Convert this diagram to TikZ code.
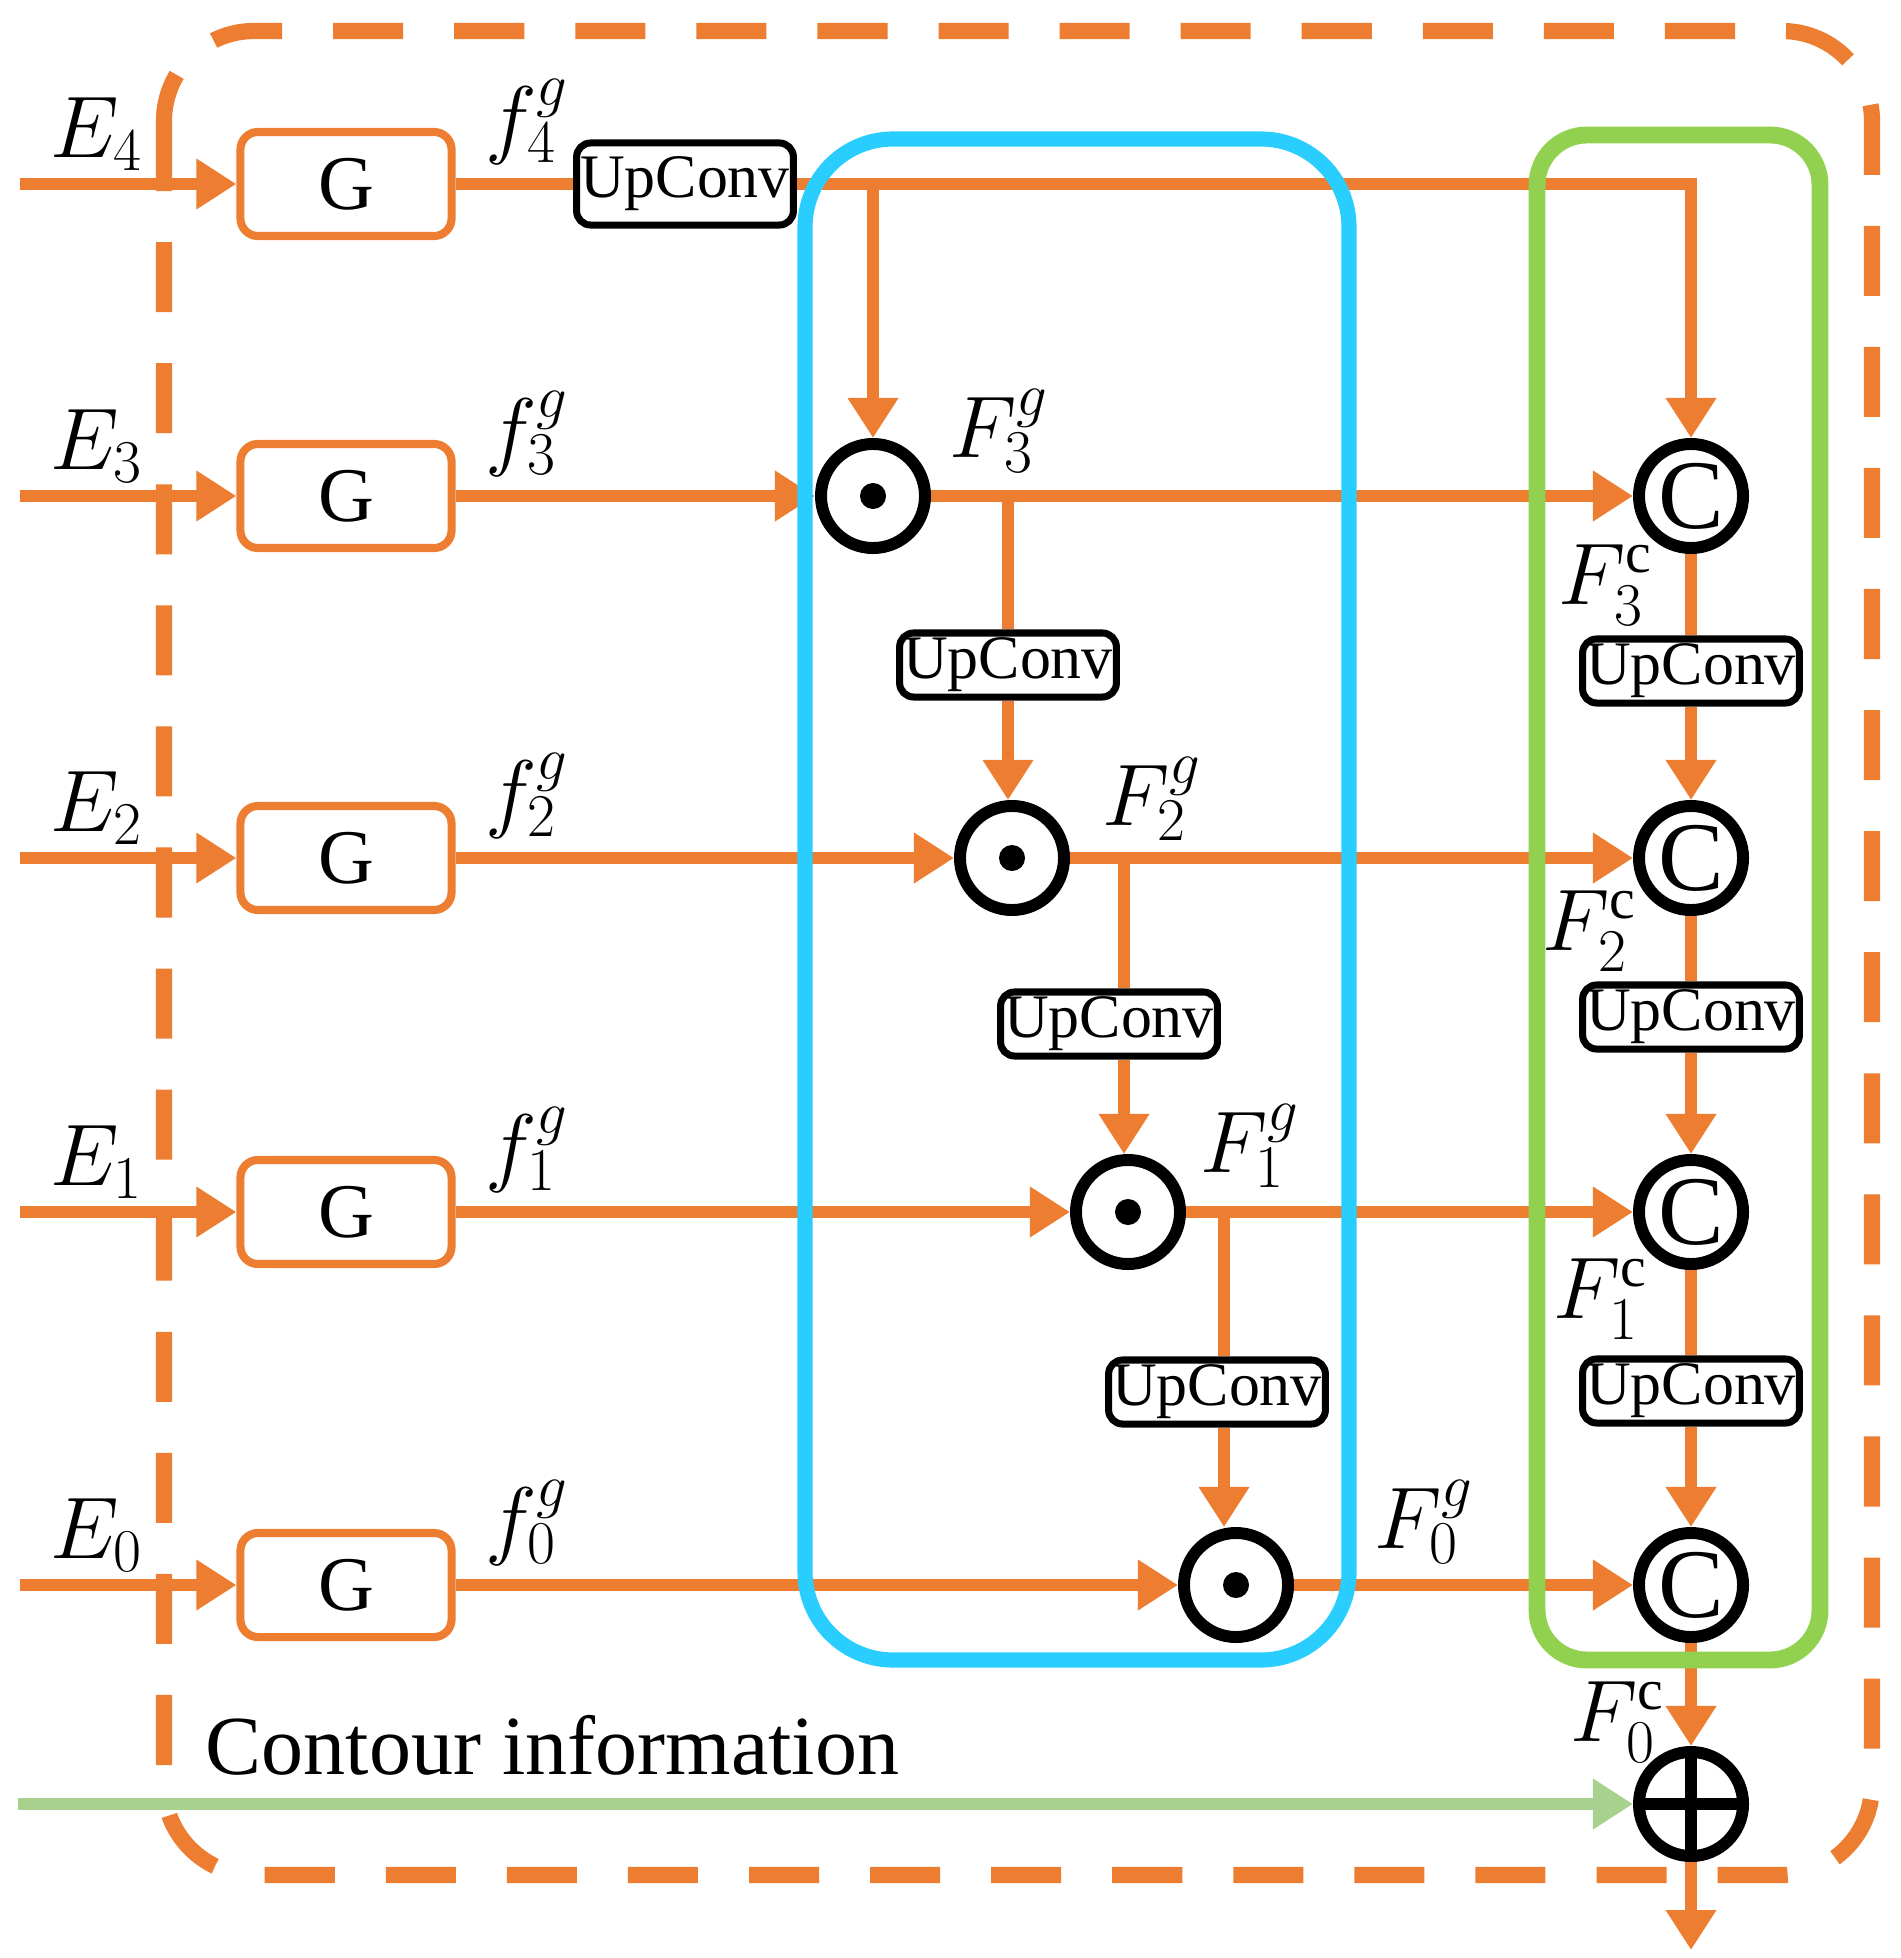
\documentclass[tikz,border=0pt]{standalone}
\usepackage{fontspec}
\setmainfont{Liberation Serif}
\usepackage{tikz}
\usetikzlibrary{positioning,calc}
\usetikzlibrary{arrows.meta}
\definecolor{DecOrange}{RGB}{237,125,49}
\definecolor{AttBlue}{RGB}{41,206,255}
\definecolor{CatGreen}{RGB}{146,208,80}
\definecolor{CtrGreen}{RGB}{169,209,142}
\tikzset{
  gbox/.style={draw=DecOrange,line width=2.3pt,rounded corners=5pt,fill=white,
    minimum width=2.11cm,minimum height=1.04cm,inner sep=0pt,
    font=\fontsize{22}{26}\selectfont},
  upconv/.style={draw=black,line width=2pt,rounded corners=4pt,fill=white,
    inner xsep=1pt,inner ysep=0pt,minimum height=0.64cm,
    font=\fontsize{17.6}{20}\selectfont},
  ring/.style={circle,draw=black,line width=3.4pt,fill=white,
    minimum size=1.04cm,inner sep=0pt},
  odot/.style={ring,path picture={
    \fill[black] (path picture bounding box.center) circle (0.13cm);}},
  ccat/.style={ring,font=\fontsize{28}{28}\selectfont},
  addn/.style={ring,path picture={
    \draw[black,line width=3.4pt] (path picture bounding box.north)
      -- (path picture bounding box.south)
      (path picture bounding box.west) -- (path picture bounding box.east);}},
  wire/.style={draw=DecOrange,line width=3.4pt},
  flow/.style={wire,-{Triangle[length=0.4cm,width=0.48cm]}},
  mlab/.style={inner sep=0pt,font=\fontsize{25}{30}\selectfont},
  flab/.style={inner sep=0pt,font=\fontsize{23.5}{28}\selectfont},
}
\begin{document}
\begin{tikzpicture}[x=0.01cm,y=-0.01cm]
  \useasboundingbox (0,0) rectangle (1901,1958);
  % encoder inputs and G blocks
  \foreach \i/\y in {4/184,3/496,2/858,1/1212,0/1585} {
    \node[gbox] (g\i) at (346,\y) {G};
    \node[mlab] (e\i) at (97,\y-50) {$E_{\i}$};
    \node[mlab] (fg\i) at (527,\y-62) {$f_{\i}^{g}$};
    \coordinate (in\i) at (20,\y);
    \draw[flow] (in\i) -- (g\i);
  }
  % attention column
  \node[upconv,minimum height=0.82cm] (up4) at (685,184) {UpConv};
  \node[odot] (o3) at (873,496) {};
  \node[odot] (o2) at (1012,858) {};
  \node[odot] (o1) at (1128,1212) {};
  \node[odot] (o0) at (1236,1585) {};
  \node[upconv] (up3) at (1008,665) {UpConv};
  \node[upconv] (up2) at (1109,1024) {UpConv};
  \node[upconv] (up1) at (1217,1392) {UpConv};
  \node[flab] (Fg3) at (999,431) {$F_3^{g}$};
  \node[flab] (Fg2) at (1152,799) {$F_2^{g}$};
  \node[flab] (Fg1) at (1250,1146) {$F_1^{g}$};
  \node[flab] (Fg0) at (1424,1522) {$F_0^{g}$};
  % concatenation column
  \node[ccat] (c3) at (1691,496) {C};
  \node[ccat] (c2) at (1691,858) {C};
  \node[ccat] (c1) at (1691,1212) {C};
  \node[ccat] (c0) at (1691,1585) {C};
  \node[upconv] (uc3) at (1691,671) {UpConv};
  \node[upconv] (uc2) at (1691,1017) {UpConv};
  \node[upconv] (uc1) at (1691,1391) {UpConv};
  \node[addn] (sum) at (1691,1804) {};
  \node[flab] (Fc3) at (1606,585) {$F_3^{\mathrm{c}}$};
  \node[flab] (Fc2) at (1590,931) {$F_2^{\mathrm{c}}$};
  \node[flab] (Fc1) at (1601,1299) {$F_1^{\mathrm{c}}$};
  \node[flab] (Fc0) at (1618,1722) {$F_0^{\mathrm{c}}$};
  \node[anchor=base west,inner sep=0pt,font=\fontsize{23.9}{28}\selectfont]
    (ctrtxt) at (205,1774) {Contour information};
  \coordinate (ctr) at (18,1804);
  \coordinate (out) at (1691,1950);
  \coordinate (b3) at (1008,496);
  \coordinate (b2) at (1124,858);
  \coordinate (b1) at (1224,1212);
  % connectors
  \draw[wire] (g4) -- (up4);
  \draw[flow] (up4.east) -| (c3);
  \draw[flow] (o3 |- up4) -- (o3);
  \foreach \i in {3,2,1,0} {
    \draw[flow] (g\i) -- (o\i);
    \draw[flow] (o\i) -- (c\i);
  }
  \foreach \b/\u/\o in {b3/up3/o2,b2/up2/o1,b1/up1/o0} {
    \draw[wire] (\b) -- (\b |- \u.north);
    \draw[flow] (\b |- \u.south) -- (\b |- \o.north);
  }
  \foreach \a/\u/\c in {c3/uc3/c2,c2/uc2/c1,c1/uc1/c0} {
    \draw[wire] (\a) -- (\u);
    \draw[flow] (\u) -- (\c);
  }
  \draw[flow] (c0) -- (sum);
  \draw[flow] (sum) -- (out);
  \draw[flow,draw=CtrGreen,fill=CtrGreen] (ctr) -- (sum);
  % frames
  \draw[AttBlue,line width=4.3pt,rounded corners=0.88cm]
    (805,139) rectangle (1349,1660);
  \draw[CatGreen,line width=4.8pt,rounded corners=0.5cm]
    (1537,135) rectangle (1820,1660);
  \draw[DecOrange,line width=4.6pt,dash pattern=on 0.7cm off 0.51cm,
    rounded corners=0.9cm] (164,31) rectangle (1872,1875);
\end{tikzpicture}
\end{document}
